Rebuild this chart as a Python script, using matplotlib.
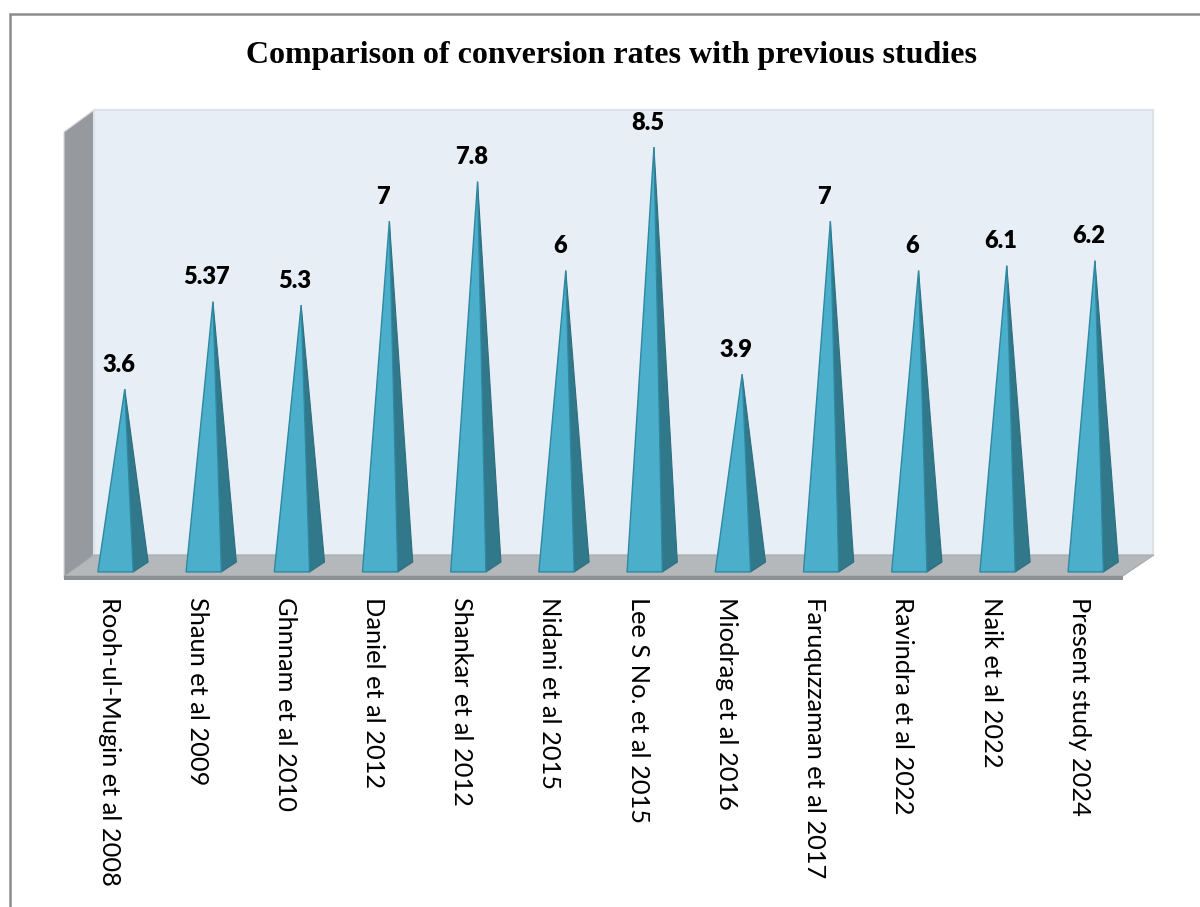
import matplotlib.pyplot as plt
from matplotlib.patches import Polygon, Rectangle

studies = ["Rooh-ul-Mugin et al 2008", "Shaun et al 2009", "Ghnnam et al 2010",
           "Daniel et al 2012", "Shankar et al 2012", "Nidani et al 2015",
           "Lee S No. et al 2015", "Miodrag et al 2016", "Faruquzzaman et al 2017",
           "Ravindra et al 2022", "Naik et al 2022", "Present study 2024"]
rates = [3.6, 5.37, 5.3, 7, 7.8, 6, 8.5, 3.9, 7, 6, 6.1, 6.2]
rate_labels = ["3.6", "5.37", "5.3", "7", "7.8", "6", "8.5", "3.9", "7", "6", "6.1", "6.2"]

W, H = 1200, 907
fig = plt.figure(figsize=(W / 100, H / 100), dpi=100)

# outer frame
fig.patches.append(Rectangle((10 / W, -0.1), 1.2, 1 - 14 / H + 0.1, transform=fig.transFigure,
                             fill=False, edgecolor="#8c8c8c", linewidth=1.8))

# plot area: value axis runs from the floor to the top of the back wall
ax_l, ax_r, ax_t, ax_b = 64, 1153, 110, 580
ax = fig.add_axes([ax_l / W, 1 - ax_b / H, (ax_r - ax_l) / W, (ax_b - ax_t) / H])
x0, dxp = 123.0, 88.2          # first category centre and spacing (px)
y0, dyp = 567.0, 49.4          # zero line and px per unit
ax.set_xlim((ax_l - x0) / dxp, (ax_r - x0) / dxp)
ax.set_ylim((y0 - ax_b) / dyp, (y0 - ax_t) / dyp)
ax.axis("off")


def px(x, y):
    return ((x - x0) / dxp, (y0 - y) / dyp)


# side wall, back wall, floor
ax.add_patch(Polygon([px(64, 132), px(94, 110), px(94, 555), px(64, 578)],
                     closed=True, facecolor="#96999d", edgecolor="#d8d8d8", lw=0.8, clip_on=False))
ax.add_patch(Polygon([px(94, 110), px(1153, 110), px(1153, 555), px(94, 555)],
                     closed=True, facecolor="#e8eef5", edgecolor="#dde2e8", lw=1.5, clip_on=False))
ax.add_patch(Polygon([px(94, 555), px(1154, 555), px(1123, 576), px(64, 576)],
                     closed=True, facecolor="#b5b8bb", edgecolor="#a0a3a6", lw=0.6, clip_on=False))
ax.add_patch(Polygon([px(64, 576), px(1123, 576), px(1123, 580), px(64, 580)],
                     closed=True, facecolor="#8e9093", edgecolor="none", clip_on=False))

# pyramids
base_y = -0.1
back_y = 0.1
for i, v in enumerate(rates):
    left, mid, right = i - 0.285, i + 0.115, i + 0.285
    ax.add_patch(Polygon([(mid, base_y), (right, back_y), (i + 0.02, v)],
                         closed=True, facecolor="#31788a", edgecolor="#2c6f80", lw=0.8))
    ax.add_patch(Polygon([(left, base_y), (mid, base_y), (i + 0.02, v)],
                         closed=True, facecolor="#4bafcb", edgecolor="#2f88a2", lw=1.0))
    ax.text(i - 0.05, v + 0.27, rate_labels[i], ha="center", va="bottom",
            fontsize=17, fontweight="heavy", family="Lato")

# category labels, read top to bottom
for i, name in enumerate(studies):
    fig.text((x0 + dxp * i - 14) / W, 1 - 597 / H, name, rotation=270,
             ha="center", va="top", fontsize=18.3, family="Lato")

fig.text(611 / W, 1 - 55 / H, "Comparison of conversion rates with previous studies",
         ha="center", va="center", fontsize=23, fontweight="bold", family="Liberation Serif")

fig.savefig("out.png", dpi=100)
